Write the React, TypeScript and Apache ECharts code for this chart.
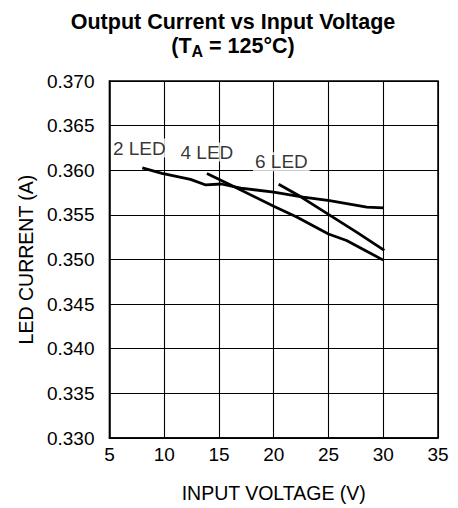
import React, { useEffect, useRef } from "react";
import * as echarts from "echarts";

const led2V = [8, 9.8, 12.4, 13.8, 15.2, 17, 20, 22.7, 25.1, 28.5, 30];
const led2I = [0.36026, 0.35964, 0.35898, 0.35835, 0.35846, 0.35799, 0.35755, 0.357, 0.35659, 0.35586, 0.35579];
const led4V = [13.9, 16.35, 20, 22.1, 25, 26.65, 30];
const led4I = [0.35964, 0.35817, 0.35597, 0.35476, 0.35286, 0.35213, 0.34993];
const led6V = [20.45, 22.4, 25, 27.6, 30.1];
const led6I = [0.35843, 0.35708, 0.35505, 0.35304, 0.35103];
const labelNames = ["2 LED", "4 LED", "6 LED"];
const labelV = [7.73, 13.9, 20.7];
const labelI = [0.36249, 0.36204, 0.36094];

const FONT = "Liberation Sans, Arial, Helvetica, sans-serif";

export default function App() {
  const ref = useRef<HTMLDivElement>(null);
  useEffect(() => {
    const chart = echarts.init(ref.current!, null, { renderer: "svg" });
    const zip = (xs: number[], ys: number[]) => xs.map((x, i) => [x, ys[i]]);
    const lineSeries = (name: string, d: number[][]) => ({
      type: "line",
      name,
      data: d,
      symbol: "none",
      lineStyle: { color: "#000", width: 2.8 },
      z: 3,
    });
    chart.setOption({
      animation: false,
      title: {
        text: "Output Current vs Input Voltage\n(T{sub|A} = 125°C)",
        left: "center",
        top: -3,
        textStyle: {
          fontFamily: FONT,
          fontSize: 21.5,
          fontWeight: "bold",
          color: "#000",
          lineHeight: 24,
          rich: {
            sub: {
              fontFamily: FONT,
              fontSize: 16,
              fontWeight: "bold",
              color: "#000",
              padding: [11, 0, 0, 0],
            },
          },
        },
      },
      grid: {
        left: 100,
        top: 73,
        width: 330,
        height: 362,
        show: true,
        borderColor: "#000",
        borderWidth: 1.5,
      },
      xAxis: {
        type: "value",
        min: 5,
        max: 35,
        interval: 5,
        name: "INPUT VOLTAGE (V)",
        nameLocation: "middle",
        nameGap: 45,
        nameTextStyle: { fontFamily: FONT, fontSize: 19.5, color: "#000" },
        axisLine: { show: true, lineStyle: { color: "#000", width: 1.5 } },
        axisTick: { show: false },
        axisLabel: { fontFamily: FONT, fontSize: 19, color: "#000", margin: 7 },
        splitLine: { show: true, lineStyle: { color: "#000", width: 1.1 } },
      },
      yAxis: {
        type: "value",
        min: 0.33,
        max: 0.37,
        interval: 0.005,
        name: "LED CURRENT (A)",
        nameLocation: "middle",
        nameGap: 73,
        nameTextStyle: { fontFamily: FONT, fontSize: 19.5, color: "#000" },
        axisLine: { show: true, lineStyle: { color: "#000", width: 1.5 } },
        axisTick: { show: false },
        axisLabel: {
          fontFamily: FONT,
          fontSize: 19,
          color: "#000",
          margin: 15,
          formatter: (v: number) => v.toFixed(3),
        },
        splitLine: { show: true, lineStyle: { color: "#000", width: 1.1 } },
      },
      series: [
        lineSeries("2 LED", zip(led2V, led2I)),
        lineSeries("4 LED", zip(led4V, led4I)),
        lineSeries("6 LED", zip(led6V, led6I)),
        {
          type: "scatter",
          symbolSize: 0,
          z: 2,
          data: labelNames.map((n, i) => ({ name: n, value: [labelV[i], labelI[i]] })),
          label: {
            show: true,
            position: "inside",
            formatter: (p: any) => p.name,
            fontFamily: FONT,
            fontSize: 19,
            color: "#000",
            backgroundColor: "#fff",
            padding: [0, 2],
          },
        },
      ],
    });
    return () => chart.dispose();
  }, []);
  return <div ref={ref} style={{ width: 450, height: 500 }} />;
}
